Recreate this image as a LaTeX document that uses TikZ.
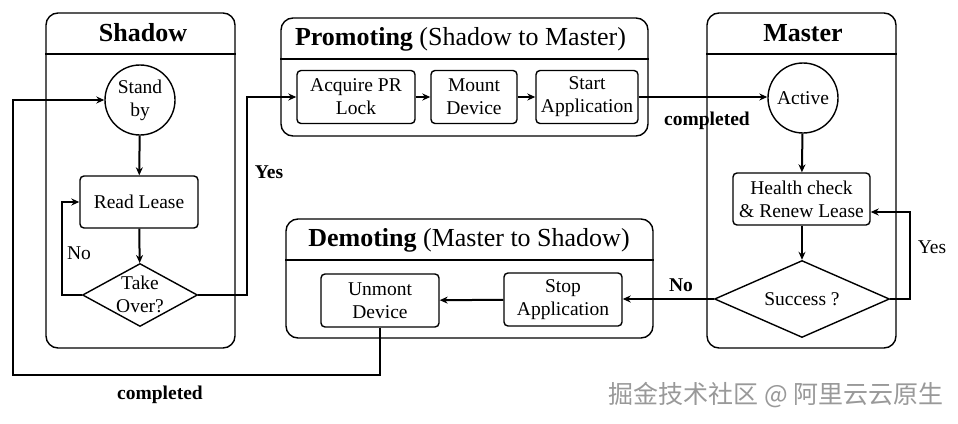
\documentclass[tikz,border=0pt]{standalone}
\usepackage{fontspec}
\setmainfont{Liberation Serif}
\newfontfamily\cjkfont{Noto Sans CJK SC}
\usetikzlibrary{shapes.geometric,arrows.meta}
\begin{document}
\begin{tikzpicture}[x=1pt,y=-1pt,
  lane/.style={draw,line width=1.4pt,rounded corners=12pt,inner sep=0pt},
  divider/.style={line width=1.4pt},
  boxnode/.style={draw,line width=1.4pt,rounded corners=4pt,inner sep=0pt,align=center,font=\fontsize{19.5}{23}\selectfont},
  circnode/.style={draw,circle,line width=1.4pt,inner sep=0pt,minimum size=70pt,align=center,font=\fontsize{19.5}{23}\selectfont},
  dianode/.style={draw,diamond,line width=1.4pt,inner sep=0pt},
  txt/.style={inner sep=0pt,align=center,font=\fontsize{19.5}{23}\selectfont},
  boldtxt/.style={inner sep=0pt,font=\fontsize{19.5}{23}\selectfont\bfseries},
  titletxt/.style={inner sep=0pt,font=\fontsize{26}{28}\selectfont},
  conn/.style={line width=2pt,-{Stealth[length=8pt,width=7pt]}},
  plain/.style={line width=2pt}]
\useasboundingbox[fill=white] (0,0) rectangle (958,423);

% lanes
\node[lane,minimum width=189pt,minimum height=335pt] (shadow) at (140.5,180.5) {};
\draw[divider] (shadow.west |- 0,54) -- (shadow.east |- 0,54);
\node[titletxt,font=\fontsize{26}{28}\selectfont\bfseries] (shadowT) at (143,33) {Shadow};

\node[lane,minimum width=367pt,minimum height=118pt] (promo) at (464.5,77) {};
\draw[divider] (promo.west |- 0,59) -- (promo.east |- 0,59);
\node[titletxt] (promoT) at (460.5,39) {\textbf{Promoting} (Shadow to Master)};

\node[lane,minimum width=189pt,minimum height=335pt] (master) at (801.5,180.5) {};
\draw[divider] (master.west |- 0,54) -- (master.east |- 0,54);
\node[titletxt,font=\fontsize{26}{28}\selectfont\bfseries] (masterT) at (803,33) {Master};

\node[lane,minimum width=367pt,minimum height=119pt] (demo) at (469.5,278.5) {};
\draw[divider] (demo.west |- 0,260) -- (demo.east |- 0,260);
\node[titletxt] (demoT) at (469,240) {\textbf{Demoting} (Master to Shadow)};

% shadow nodes
\node[circnode] (standby) at (140,100) {Stand\\by};
\node[boxnode,minimum width=118pt,minimum height=52pt] (read) at (139,202) {Read Lease};
\node[dianode,minimum width=115pt,minimum height=63pt] (take) at (140,295) {};
\node[txt] (takeT) at (140,294) {Take\\Over?};

% promoting nodes
\node[boxnode,minimum width=118pt,minimum height=53pt] (acq) at (356,97) {Acquire PR\\Lock};
\node[boxnode,minimum width=86pt,minimum height=53pt] (mount) at (474,97) {Mount\\Device};
\node[boxnode,minimum width=102pt,minimum height=53pt] (start) at (587,97) {Start\\Application};

% master nodes
\node[circnode] (active) at (803,98) {Active};
\node[boxnode,minimum width=137pt,minimum height=52pt] (health) at (801.5,199) {Health check\\\& Renew Lease};
\node[dianode,minimum width=175pt,minimum height=77pt] (succ) at (802,299) {};
\node[txt] (succT) at (802,299) {Success ?};

% demoting nodes
\node[boxnode,minimum width=118pt,minimum height=53pt] (unmont) at (380,300.5) {Unmont\\Device};
\node[boxnode,minimum width=118pt,minimum height=53pt] (stop) at (563,299.5) {Stop\\Application};

% coordinates
\coordinate (noL) at (62,295);
\coordinate (yesX) at (247,295);
\coordinate (yesTop) at (247,97);
\coordinate (bot) at (380,375);
\coordinate (botL) at (13,375);
\coordinate (topL) at (13,100);
\coordinate (myR) at (910,299);
\coordinate (myTop) at (910,212);

% connectors
\draw[conn] (standby) -- (read);
\draw[conn] (read) -- (take);
\draw[conn] (take.west) -- (noL) -- (noL |- read.west) -- (read.west);
\draw[conn] (take.east) -- (yesX) -- (yesTop) -- (acq.west);
\draw[conn] (acq) -- (mount);
\draw[conn] (mount) -- (start);
\draw[conn] (start.east) -- (active.west |- start.east);
\draw[conn] (active) -- (health);
\draw[conn] (health.south -| succ.north) -- (succ.north);
\draw[conn] (succ.east) -- (myR) -- (myTop) -- (health.east |- myTop);
\draw[conn] (succ.west) -- (stop.east |- succ.west);
\draw[conn] (stop) -- (unmont);
\draw[conn] (unmont.south) -- (bot) -- (botL) -- (topL) -- (standby.west);

% labels
\node[txt] (noLab) at (79,253) {No};
\node[boldtxt] (yesLab) at (269,172) {Yes};
\node[boldtxt] (compLab1) at (707,121) {completed};
\node[txt] (yesLab2) at (932,247) {Yes};
\node[boldtxt] (noLab2) at (681,285) {No};
\node[boldtxt] (compLab2) at (160,395) {completed};

% watermark
\node[inner sep=0pt,text=black!40,font=\cjkfont\fontsize{25}{28}\selectfont] (wm) at (776,395) {掘金技术社区 @ 阿里云云原生};
\end{tikzpicture}
\end{document}
